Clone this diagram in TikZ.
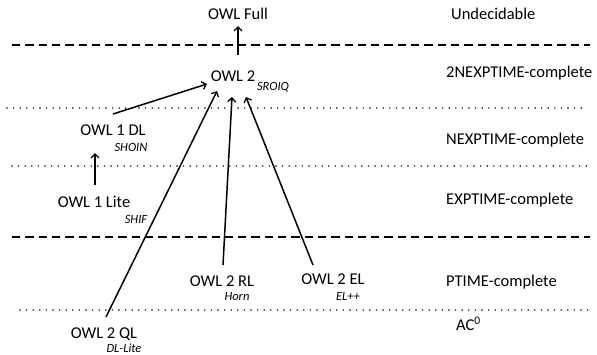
\documentclass[tikz,border=0pt]{standalone}
\usepackage{fontspec}
\setmainfont{Carlito}
\usetikzlibrary{arrows.meta}
\tikzset{
  lbl/.style={inner sep=0pt, font=\fontsize{16.5}{18}\selectfont},
  sub/.style={inner sep=0pt, font=\fontsize{12.5}{14}\selectfont\itshape},
  cls/.style={inner sep=0pt, anchor=west, font=\fontsize{16.5}{18}\selectfont},
  arr/.style={line width=1.5pt, -{Straight Barb[length=4pt,width=8pt,line width=1.3pt]}},
  dashline/.style={line width=2pt, dash pattern=on 8.3pt off 5pt},
  dotline/.style={line width=1.6pt, line cap=round, dash pattern=on 0pt off 6.6pt}
}
\begin{document}
\begin{tikzpicture}[x=1pt,y=-1pt]
\useasboundingbox (0,0) rectangle (597,354);
% separator lines
\draw[dashline] (12,45) -- (590,45);
\draw[dotline] (7,108) -- (585,108);
\draw[dotline] (12,166) -- (590,166);
\draw[dashline] (12,237) -- (590,237);
\draw[dotline] (20,310) -- (590,310);
% class labels
\node[cls] (c1) at (451,14) {Undecidable};
\node[cls] (c2) at (446,73) {2NEXPTIME-complete};
\node[cls] (c3) at (446,140) {NEXPTIME-complete};
\node[cls] (c4) at (446,200) {EXPTIME-complete};
\node[cls] (c5) at (446,282) {PTIME-complete};
\node[cls, anchor=base west] (c6) at (456,330.5) {AC\textsuperscript{0}};
% languages
\node[lbl] (full) at (238,14) {OWL Full};
\node[lbl] (owl2) at (233,76) {OWL 2};
\node[sub] (sroiq) at (273,87) {SROIQ};
\node[lbl] (dl) at (113,130) {OWL 1 DL};
\node[sub] (shoin) at (131,147) {SHOIN};
\node[lbl] (lite) at (94,202) {OWL 1 Lite};
\node[sub] (shif) at (136,219) {SHIF};
\node[lbl] (rl) at (222,281) {OWL 2 RL};
\node[sub] (horn) at (237,297) {Horn};
\node[lbl] (el) at (333,279) {OWL 2 EL};
\node[sub] (elpp) at (348,296) {EL++};
\node[lbl] (ql) at (104,334) {OWL 2 QL};
\node[sub] (dllite) at (124,348) {DL-Lite};
% arrows
\draw[arr] ([shift={(5,-21)}]owl2.center) -- ([shift={(0,12)}]full.center);
\draw[arr] ([shift={(0,-16)}]dl.center) -- ([shift={(-26,8)}]owl2.center);
\draw[arr] ([shift={(1,-17)}]lite.center) -- ([shift={(-18,23)}]dl.center);
\draw[arr] ([shift={(2,-17)}]ql.center) -- ([shift={(-16,15)}]owl2.center);
\draw[arr] ([shift={(1,-16)}]rl.center) -- ([shift={(-1,21)}]owl2.center);
\draw[arr] ([shift={(-20,-14)}]el.center) -- ([shift={(13,21)}]owl2.center);
\end{tikzpicture}
\end{document}
